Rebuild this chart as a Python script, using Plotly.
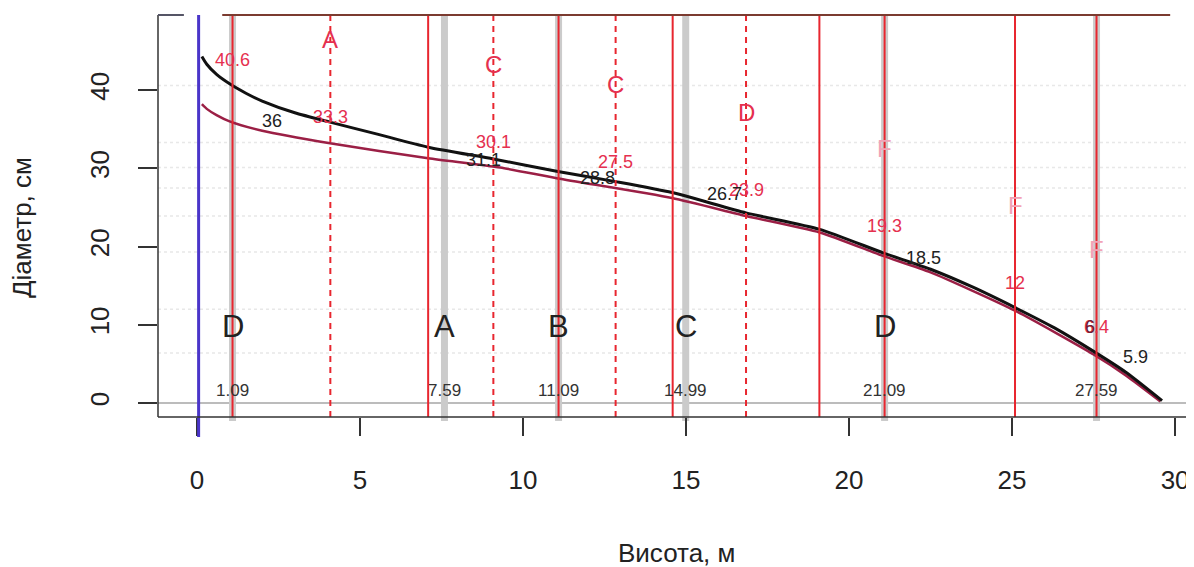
import plotly.graph_objects as go

# ---- data ----
# stem profile: over-bark (black) and under-bark (dark red)
h_over = [0.15, 0.3, 0.6, 1.0, 1.5, 2.0, 3.0, 4.08, 5.5, 7.09, 9.09, 11.07, 12.84, 14.57, 16.84, 19.1, 21.04, 22.5, 23.8, 25.09, 26.3, 27.5, 28.5, 29.6]
d_over = [44.3, 43.3, 42.0, 40.8, 39.6, 38.6, 37.1, 35.9, 34.4, 32.7, 31.2, 29.6, 28.3, 26.9, 24.3, 22.2, 19.2, 17.1, 14.8, 12.2, 9.6, 6.6, 3.9, 0.3]
h_under = [0.15, 0.3, 0.6, 1.0, 2.0, 4.08, 7.09, 9.3, 11.07, 14.57, 16.84, 19.1, 21.04, 22.5, 25.09, 27.5, 28.5, 29.55]
d_under = [38.2, 37.6, 36.8, 36.0, 34.8, 33.2, 31.3, 30.1, 28.7, 26.2, 23.9, 21.8, 18.8, 16.7, 11.8, 6.2, 3.5, 0.2]

cut_heights = [1.09, 7.09, 11.09, 14.59, 19.09, 21.09, 25.09, 27.59]      # red solid
mid_heights = [4.09, 9.09, 12.84, 16.84]                                   # red dashed
grade_heights = [1.09, 7.59, 11.09, 14.99, 21.09, 27.59]                   # grey thick
grade_letters = ["D", "A", "B", "C", "D", ""]
grade_labels = ["1.09", "7.59", "11.09", "14.99", "21.09", "27.59"]
black_values = [36, 31.1, 28.8, 26.7, 18.5, 5.9]

red_pos = [1.09, 4.09, 9.09, 12.84, 16.84, 21.09, 25.09, 27.59]
red_values = [40.6, 33.3, 30.1, 27.5, 23.9, 19.3, 12, 6.4]
top_letters = ["", "A", "C", "C", "D", "F", "F", "F"]

stem_base = 0.05
x_ticks = [0, 5, 10, 15, 20, 25, 30]
y_ticks = [0, 10, 20, 30, 40]

RED = "#e8262f"
LABEL_RED = "#e5304f"
FONT = "Liberation Sans, Arial, sans-serif"

# page body has an 8px margin: figure is offset by 8px in the screenshot
W, H = 1186, 559
ML, MT, MB, MR = 150, 7, 150, 0

fig = go.Figure()

fig.add_trace(go.Scatter(x=h_under, y=d_under, mode="lines",
                         line=dict(color="#9b1f45", width=2.5, shape="spline", smoothing=0.6), hoverinfo="skip"))
fig.add_trace(go.Scatter(x=h_over, y=d_over, mode="lines",
                         line=dict(color="#111111", width=3, shape="spline", smoothing=0.6), hoverinfo="skip"))

shapes = []
for v in red_values:
    shapes.append(dict(type="line", xref="paper", yref="y", x0=0, x1=1, y0=v, y1=v,
                       line=dict(color="#e8e8e8", width=1.5, dash="dot"), layer="below"))
shapes.append(dict(type="line", xref="paper", yref="y", x0=0, x1=1, y0=0, y1=0,
                   line=dict(color="#7a7a7a", width=1.2), layer="below"))
for v in grade_heights:
    shapes.append(dict(type="line", xref="x", yref="paper", x0=v, x1=v, y0=-0.01, y1=1,
                       line=dict(color="#cbcbcb", width=7), layer="below"))
for v in mid_heights:
    shapes.append(dict(type="line", xref="x", yref="paper", x0=v, x1=v, y0=0, y1=1,
                       line=dict(color=RED, width=2, dash="6px,5px"), layer="above"))
for v in cut_heights:
    shapes.append(dict(type="line", xref="x", yref="paper", x0=v, x1=v, y0=0, y1=1,
                       line=dict(color=RED, width=2), layer="above"))
shapes.append(dict(type="line", xref="x", yref="paper", x0=stem_base, x1=stem_base, y0=-0.05, y1=1,
                   line=dict(color="#4a35c9", width=3), layer="above"))
# box
shapes.append(dict(type="line", xref="paper", yref="paper", x0=0, x1=0, y0=0, y1=1, line=dict(color="#333333", width=1.5)))
shapes.append(dict(type="line", xref="paper", yref="paper", x0=0, x1=1, y0=0, y1=0, line=dict(color="#333333", width=1.5)))
shapes.append(dict(type="line", xref="paper", yref="paper", x0=0, x1=0.025, y0=1, y1=1, line=dict(color="#555566", width=2)))
shapes.append(dict(type="line", xref="paper", yref="paper", x0=0.062, x1=0.977, y0=1, y1=1, line=dict(color="#7b3b30", width=2)))

ann = []
def txt(x, y, s, color, size, **kw):
    d = dict(x=x, y=y, xref="x", yref="y", text=s, showarrow=False,
             font=dict(color=color, size=size, family=FONT))
    d.update(kw)
    ann.append(d)

for p, v in zip(red_pos, red_values):
    txt(p, v + 3.3, f"{v:g}", LABEL_RED, 18)
for p, v, l in zip(red_pos, red_values, top_letters):
    if l:
        col = LABEL_RED if p < 19 else "#f2a3b6"
        txt(p, v + 13.2, l, col, 24)
for p, v in zip(grade_heights, black_values):
    txt(p + 1.2, v, f"{v:g}", "#222222", 18)
for p, l in zip(grade_heights, grade_labels):
    txt(p, 0.1, l, "#333333", 17, yanchor="bottom")
for p, l in zip(grade_heights, grade_letters):
    if l:
        txt(p, 9.8, l, "#222222", 31)
txt(grade_heights[-1] - 0.2, 9.7, "6", "#6a2030", 18)

plot_h = H - MT - MB
plot_w = W - ML - MR
ann.append(dict(x=0.5, y=-136 / plot_h, xref="paper", yref="paper", text="Висота, м", showarrow=False,
                font=dict(size=26, color="#222222", family=FONT), yanchor="middle"))
ann.append(dict(x=-136 / plot_w, y=0.47, xref="paper", yref="paper", text="Діаметр, см", showarrow=False,
                textangle=-90, font=dict(size=26, color="#222222", family=FONT), xanchor="center"))

fig.update_layout(
    width=W, height=H,
    margin=dict(l=ML, r=MR, t=MT, b=MB, autoexpand=False),
    plot_bgcolor="white", paper_bgcolor="white",
    showlegend=False,
    shapes=shapes, annotations=ann,
    xaxis=dict(range=[-1.196, 30.58], tickvals=x_ticks, ticks="outside", ticklen=18, tickwidth=1.5,
               tickcolor="#333333", showgrid=False, zeroline=False, showline=False,
               ticklabelstandoff=22,
               tickfont=dict(size=26, color="#222222", family=FONT)),
    yaxis=dict(range=[-1.79, 49.6], tickvals=y_ticks, ticks="outside", ticklen=19, tickwidth=1.5,
               tickcolor="#333333", showgrid=False, zeroline=False, showline=False, tickangle=-90,
               ticklabelstandoff=19,
               tickfont=dict(size=26, color="#222222", family=FONT)),
)

fig.write_html("out.html")
